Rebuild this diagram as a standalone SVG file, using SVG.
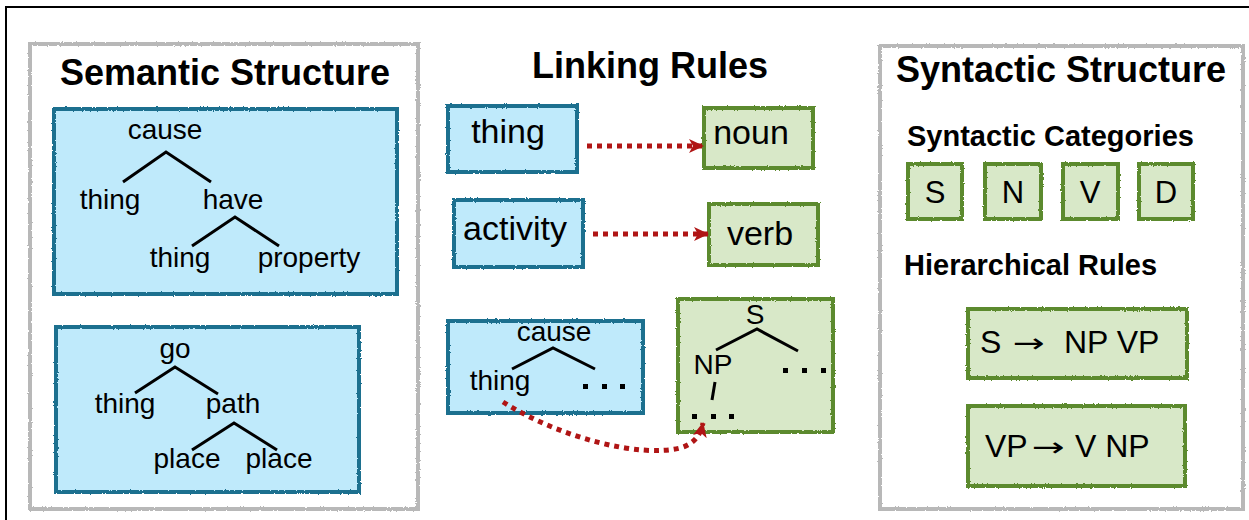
<svg xmlns="http://www.w3.org/2000/svg" width="1249" height="520" viewBox="0 0 1249 520">
  <style>
    .panel { fill: #ffffff; stroke: #b8b8b8; stroke-width: 4; }
    .blue { fill: #bfeafb; stroke: #1f6f8f; stroke-width: 4; }
    .green { fill: #d8e8c8; stroke: #5b8a2f; stroke-width: 4; }
    .title { font-family: "Liberation Sans", Arial, sans-serif; font-weight: bold; font-size: 36px; fill: #000; }
    .sub { font-family: "Liberation Sans", Arial, sans-serif; font-weight: bold; font-size: 29px; fill: #000; }
    .t { font-family: "Liberation Sans", Arial, sans-serif; font-size: 28px; fill: #000; text-anchor: middle; }
    .big { font-family: "Liberation Sans", Arial, sans-serif; font-size: 34px; fill: #000; }
    .rule { font-family: "Liberation Sans", Arial, sans-serif; font-size: 32px; fill: #000; }
    .arr { font-family: "DejaVu Sans", sans-serif; font-size: 26px; fill: #000; }
    .cat { font-family: "Liberation Sans", Arial, sans-serif; font-size: 31px; fill: #000; text-anchor: middle; }
    .br { fill: none; stroke: #000; stroke-width: 3; }
    .dot { fill: #000; }
    .link { fill: none; stroke: #b01515; stroke-width: 5; stroke-dasharray: 5 5; }
  </style>
  <defs>
    <filter id="rough" x="-5%" y="-5%" width="110%" height="110%">
      <feTurbulence type="fractalNoise" baseFrequency="0.6" numOctaves="2" seed="3" result="n"/>
      <feDisplacementMap in="SourceGraphic" in2="n" scale="2.5" xChannelSelector="R" yChannelSelector="G"/>
    </filter>
    <marker id="ah" markerUnits="userSpaceOnUse" markerWidth="16" markerHeight="16" refX="14" refY="8" orient="auto">
      <path d="M0,1 L15,8 L0,15 L4,8 Z" fill="#b01515"/>
    </marker>
  </defs>

  <rect x="0" y="0" width="1249" height="520" fill="#ffffff"/>
  <rect x="6" y="7" width="1270" height="540" fill="none" stroke="#000" stroke-width="2"/>

  <!-- Semantic Structure panel -->
  <g id="semantic-panel">
    <rect class="panel" x="30" y="44" width="388" height="465" filter="url(#rough)"/>
    <text class="title" x="60" y="85">Semantic Structure</text>
  </g>
  <g id="sem-tree-1">
    <rect class="blue" x="54" y="109" width="343" height="185" filter="url(#rough)"/>
    <text class="t" x="165" y="139">cause</text>
    <polyline class="br" points="123,182 166,152 211,182"/>
    <text class="t" x="110" y="209">thing</text>
    <text class="t" x="233" y="209">have</text>
    <polyline class="br" points="192,246 235,217 279,246"/>
    <text class="t" x="180" y="267">thing</text>
    <text class="t" x="309" y="267">property</text>
  </g>
  <g id="sem-tree-2">
    <rect class="blue" x="56" y="327" width="303" height="165" filter="url(#rough)"/>
    <text class="t" x="175" y="358">go</text>
    <polyline class="br" points="135,393 175,367 218,394"/>
    <text class="t" x="125" y="413">thing</text>
    <text class="t" x="233" y="413">path</text>
    <polyline class="br" points="192,450 234,423 277,450"/>
    <text class="t" x="187" y="468">place</text>
    <text class="t" x="279" y="468">place</text>
  </g>

  <!-- Linking Rules -->
  <g id="linking-title">
    <text class="title" x="650" y="78" text-anchor="middle">Linking Rules</text>
  </g>
  <g id="link-thing">
    <rect class="blue" x="448" y="106" width="129" height="66" filter="url(#rough)"/>
    <text class="big" x="508" y="143" text-anchor="middle">thing</text>
  </g>
  <g id="link-noun">
    <rect class="green" x="704" y="108" width="109" height="60" filter="url(#rough)"/>
    <text class="big" x="751" y="144" text-anchor="middle">noun</text>
  </g>
  <g id="link-activity">
    <rect class="blue" x="454" y="200" width="129" height="67" filter="url(#rough)"/>
    <text class="big" x="515" y="240" text-anchor="middle">activity</text>
  </g>
  <g id="link-verb">
    <rect class="green" x="709" y="204" width="109" height="61" filter="url(#rough)"/>
    <text class="big" x="760" y="245" text-anchor="middle">verb</text>
  </g>
  <g id="link-cause-tree">
    <rect class="blue" x="448" y="321" width="195" height="92" filter="url(#rough)"/>
    <text class="t" x="554" y="341">cause</text>
    <polyline class="br" points="512,369 553,348 595,369"/>
    <text class="t" x="500" y="390">thing</text>
    <rect class="dot" x="583" y="384" width="5" height="5"/>
    <rect class="dot" x="602" y="384" width="5" height="5"/>
    <rect class="dot" x="620" y="384" width="5" height="5"/>
  </g>
  <g id="link-s-tree">
    <rect class="green" x="678" y="299" width="155" height="133" filter="url(#rough)"/>
    <text class="t" x="755" y="324">S</text>
    <polyline class="br" points="716,350 757,329 798,351"/>
    <text class="t" x="713" y="374">NP</text>
    <line class="br" x1="715" y1="382" x2="712" y2="400"/>
    <rect class="dot" x="783" y="368" width="5" height="5"/>
    <rect class="dot" x="802" y="368" width="5" height="5"/>
    <rect class="dot" x="821" y="368" width="5" height="5"/>
    <rect class="dot" x="692" y="414" width="5" height="5"/>
    <rect class="dot" x="711" y="414" width="5" height="5"/>
    <rect class="dot" x="729" y="414" width="5" height="5"/>
  </g>

  <!-- Syntactic Structure panel -->
  <g id="syntactic-panel">
    <rect class="panel" x="880" y="46" width="363" height="463" filter="url(#rough)"/>
    <text class="title" x="896" y="82">Syntactic Structure</text>
    <text class="sub" x="907" y="146">Syntactic Categories</text>
    <text class="sub" x="904" y="275">Hierarchical Rules</text>
  </g>
  <g id="cat-S">
    <rect class="green" x="908" y="164" width="54" height="55" filter="url(#rough)"/>
    <text class="cat" x="935" y="203">S</text>
  </g>
  <g id="cat-N">
    <rect class="green" x="985" y="164" width="56" height="55" filter="url(#rough)"/>
    <text class="cat" x="1013" y="203">N</text>
  </g>
  <g id="cat-V">
    <rect class="green" x="1063" y="164" width="55" height="55" filter="url(#rough)"/>
    <text class="cat" x="1090" y="203">V</text>
  </g>
  <g id="cat-D">
    <rect class="green" x="1139" y="164" width="54" height="55" filter="url(#rough)"/>
    <text class="cat" x="1166" y="203">D</text>
  </g>
  <g id="rule-1">
    <rect class="green" x="968" y="309" width="219" height="69" filter="url(#rough)"/>
    <text class="rule" x="980" y="353">S</text>
    <text class="arr" x="1013" y="352" textLength="32" lengthAdjust="spacingAndGlyphs">→</text>
    <text class="rule" x="1064" y="353">NP VP</text>
  </g>
  <g id="rule-2">
    <rect class="green" x="968" y="406" width="217" height="80" filter="url(#rough)"/>
    <text class="rule" x="985" y="457">VP</text>
    <text class="arr" x="1032" y="456" textLength="33" lengthAdjust="spacingAndGlyphs">→</text>
    <text class="rule" x="1075" y="457">V NP</text>
  </g>

  <!-- Connectors -->
  <g id="connectors">
    <line class="link" x1="587" y1="146" x2="703" y2="146" marker-end="url(#ah)"/>
    <line class="link" x1="593" y1="234" x2="708" y2="234" marker-end="url(#ah)"/>
    <path class="link" d="M503,402 C560,438 640,458 680,448 C694,444 700,436 703,423" marker-end="url(#ah)"/>
  </g>
</svg>
